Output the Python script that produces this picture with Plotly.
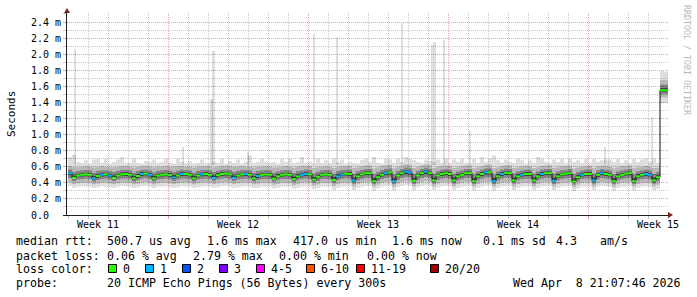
import plotly.graph_objects as go

# ------------------------------------------------------------------ data
# one sample every 0.2 day (30 days, 5 samples per day), values in microseconds
SAMPLE_DAYS = 0.2

median_us = [
    520, 460, 490, 500, 505,   500, 455, 485, 500, 505,   490, 460, 490, 505, 510,
    500, 455, 485, 510, 515,   500, 455, 490, 500, 505,   495, 465, 490, 510, 510,
    500, 455, 490, 505, 510,   500, 460, 495, 510, 515,   505, 460, 490, 505, 510,
    500, 455, 485, 500, 505,   500, 450, 480, 500, 505,   500, 445, 480, 500, 510,
    505, 440, 475, 500, 505,   500, 435, 480, 505, 515,   510, 430, 480, 505, 520,
    520, 420, 470, 500, 520,   530, 420, 490, 520, 540,   530, 425, 490, 520, 540,
    520, 430, 490, 510, 520,   510, 430, 480, 500, 520,   520, 420, 480, 510, 530,
    530, 420, 480, 510, 525,   520, 430, 480, 500, 510,   510, 430, 480, 510, 520,
    520, 425, 480, 505, 515,   520, 415, 470, 500, 510,   510, 430, 500, 520, 510,
    500, 420, 480, 500, 515,   520, 420, 480, 500, 510,   500, 430, 470, 1550, 1550,
]
ping_p90_us = [
    610, 600, 595, 600, 605,   600, 590, 600, 605, 600,   595, 595, 600, 610, 605,
    600, 590, 600, 605, 610,   600, 595, 600, 600, 605,   600, 600, 605, 610, 600,
    600, 590, 600, 605, 605,   605, 595, 600, 610, 610,   605, 600, 600, 605, 600,
    600, 590, 600, 600, 605,   600, 590, 595, 600, 605,   600, 590, 600, 605, 610,
    605, 585, 595, 600, 605,   600, 585, 600, 605, 610,   610, 585, 595, 605, 615,
    615, 580, 595, 610, 620,   625, 580, 600, 615, 630,   625, 585, 600, 615, 630,
    620, 585, 600, 610, 615,   610, 585, 595, 605, 615,   615, 580, 595, 610, 625,
    625, 580, 595, 610, 620,   615, 585, 595, 605, 610,   610, 585, 595, 610, 615,
    615, 585, 595, 605, 610,   615, 580, 590, 600, 610,   610, 585, 605, 615, 610,
    600, 580, 595, 605, 610,   615, 580, 595, 600, 610,   600, 585, 590, 1680, 1680,
]
ping_p10_us = [
    410, 385, 395, 400, 405,   400, 380, 390, 400, 405,   395, 385, 395, 405, 405,
    400, 380, 390, 405, 410,   400, 380, 395, 400, 405,   395, 385, 395, 405, 405,
    400, 380, 395, 400, 405,   400, 385, 395, 405, 410,   400, 385, 395, 400, 405,
    400, 380, 390, 400, 400,   400, 375, 385, 400, 400,   400, 370, 385, 400, 405,
    400, 365, 380, 400, 400,   400, 360, 385, 400, 405,   405, 355, 385, 400, 410,
    410, 350, 375, 400, 410,   415, 350, 390, 410, 420,   415, 355, 390, 410, 420,
    410, 355, 390, 405, 410,   405, 355, 385, 400, 410,   410, 350, 385, 405, 415,
    415, 350, 385, 405, 410,   410, 355, 385, 400, 405,   405, 355, 385, 405, 410,
    410, 355, 385, 400, 405,   410, 345, 375, 400, 405,   405, 355, 395, 410, 405,
    400, 350, 385, 400, 405,   410, 350, 385, 400, 405,   400, 355, 375, 1460, 1460,
]
ping_min_us = [
    360, 340, 350, 355, 350,   350, 335, 345, 355, 350,   345, 340, 350, 360, 355,
    350, 335, 345, 355, 360,   350, 335, 350, 350, 355,   345, 340, 345, 355, 355,
    350, 335, 345, 350, 355,   350, 340, 345, 355, 360,   350, 340, 345, 350, 355,
    350, 335, 340, 350, 350,   350, 330, 340, 350, 350,   350, 325, 340, 350, 355,
    350, 320, 335, 350, 350,   350, 315, 340, 350, 355,   355, 310, 340, 350, 360,
    360, 305, 330, 350, 360,   365, 305, 345, 360, 370,   365, 310, 345, 360, 370,
    360, 310, 345, 355, 360,   355, 310, 340, 350, 360,   360, 305, 340, 355, 365,
    365, 305, 340, 355, 360,   360, 310, 340, 350, 355,   355, 310, 340, 355, 360,
    360, 310, 340, 350, 355,   360, 300, 330, 350, 355,   355, 310, 350, 360, 355,
    350, 305, 340, 350, 355,   360, 305, 340, 350, 355,   350, 310, 330, 1390, 1390,
]
ping_max_us = [
    720, 750, 660, 650, 680,   640, 690, 700, 650, 700,   640, 660, 690, 720, 650,
    650, 700, 650, 640, 670,   660, 690, 650, 660, 700,   650, 640, 700, 660, 650,
    670, 640, 650, 690, 650,   640, 660, 650, 700, 640,   670, 650, 690, 640, 660,
    740, 650, 660, 700, 660,   650, 660, 640, 700, 660,   700, 650, 660, 720, 650,
    660, 640, 700, 650, 680,   650, 700, 660, 690, 640,   660, 650, 640, 680, 700,
    660, 720, 650, 640, 700,   690, 650, 700, 660, 720,   700, 680, 660, 650, 690,
    670, 660, 690, 650, 700,   650, 690, 660, 700, 650,   640, 700, 650, 720, 660,
    700, 740, 680, 650, 690,   660, 650, 700, 680, 640,   680, 650, 720, 700, 660,
    650, 690, 660, 700, 650,   700, 660, 680, 650, 700,   650, 700, 660, 680, 690,
    690, 660, 700, 650, 680,   650, 700, 660, 690, 700,   660, 700, 650, 1790, 1780,
]
# pings lost out of 20 in each sample
loss_count = [
    1, 0, 0, 0, 0,   0, 1, 0, 1, 0,   1, 0, 0, 0, 0,   0, 0, 0, 1, 0,   1, 0, 0, 0, 0,
    0, 1, 0, 1, 0,   0, 0, 0, 1, 0,   0, 1, 0, 0, 0,   0, 1, 0, 0, 1,   0, 0, 1, 0, 0,
    0, 0, 0, 0, 0,   0, 0, 0, 1, 1,   0, 0, 0, 0, 0,   0, 0, 1, 1, 0,   0, 1, 0, 0, 0,
    0, 0, 0, 0, 1,   0, 1, 0, 0, 1,   1, 0, 0, 0, 1,   0, 0, 0, 0, 0,   0, 0, 0, 0, 0,
    0, 0, 0, 0, 1,   0, 1, 0, 1, 0,   0, 0, 0, 1, 0,   0, 0, 0, 1, 0,   0, 1, 0, 0, 0,
    0, 0, 0, 1, 0,   0, 1, 0, 1, 0,   0, 0, 0, 0, 0,   0, 0, 0, 0, 1,   1, 0, 0, 0, 0,
]
# isolated high max-ping columns (day position, microseconds)
spike_day = [0.35, 5.75, 7.17, 7.27, 9.0, 12.3, 13.45, 16.7, 18.2, 18.33, 18.8, 20.1, 26.85, 29.2]
spike_top_us = [2060, 850, 1440, 2040, 780, 2250, 2210, 2390, 2110, 2150, 2180, 1040, 850, 1220]

y_tick_vals = [0, 2, 4, 6, 8, 10, 12, 14, 16, 18, 20, 22, 24]          # units of 100 us
y_tick_text = ["0.0\u00a0\u00a0", "0.2 m", "0.4 m", "0.6 m", "0.8 m", "1.0 m", "1.2 m",
               "1.4 m", "1.6 m", "1.8 m", "2.0 m", "2.2 m", "2.4 m"]
week_grid_day = [5, 12, 19, 26]
week_label_day = [1.5, 8.5, 15.5, 22.5, 29.5]
week_labels = ["Week 11", "Week 12", "Week 13", "Week 14", "Week 15"]

loss_colors = {0: "#26ff00", 1: "#00b8ff", 2: "#0059ff", 3: "#7e00ff",
               5: "#ff00ff", 10: "#ff5500", 19: "#ff0000", 20: "#a10000"}
legend_loss_labels = ["0", "1", "2", "3", "4-5", "6-10", "11-19", "20/20"]
legend_loss_colors = ["#26ff00", "#00b8ff", "#0059ff", "#7e00ff", "#ff00ff", "#ff5500", "#ff0000", "#a10000"]

stats_line1 = ["median rtt:", "500.7 us avg", "1.6 ms max", "417.0 us min", "1.6 ms now", "0.1 ms sd", "4.3", "am/s"]
stats_line2 = ["packet loss:", "0.06 % avg", "2.79 % max", "0.00 % min", "0.00 % now"]
probe_text = ["probe:", "20 ICMP Echo Pings (56 Bytes) every 300s"]
stamp_text = "Wed Apr \u00a08 21:07:46 2026"

# ------------------------------------------------------------------ geometry
W, H = 697, 297
ML, MR, MT, MB = 67, 29, 13, 82
PW, PH = W - ML - MR, H - MT - MB
MONO = "DejaVu Sans Mono"


def px(x):
    return (x - ML) / PW


def py(y):
    return (H - MB - y) / PH


def u(v):  # microseconds -> axis units (100 us)
    return v / 100.0


n = len(median_us)
t = [i * SAMPLE_DAYS for i in range(n)]
t_step = t + [n * SAMPLE_DAYS]


def stepped(vals):
    v = [u(a) for a in vals]
    return v + [v[-1]]


fig = go.Figure()

# isolated max-ping columns
fig.add_trace(go.Bar(x=spike_day, y=[u(v) - 6.2 for v in spike_top_us], base=6.2, width=0.13,
                     marker=dict(color="rgba(0,0,0,0.13)", line=dict(width=0)),
                     hoverinfo="skip", showlegend=False))

# smoke: strips between successive edges
med = [u(a) for a in median_us]
p10 = [u(a) for a in ping_p10_us]
p90 = [u(a) for a in ping_p90_us]
e2 = [m - 0.55 * (m - q) for m, q in zip(med, p10)]
e3 = [m - 0.25 * (m - q) for m, q in zip(med, p10)]
e5 = [m + 0.25 * (q - m) for m, q in zip(med, p90)]
e6 = [m + 0.55 * (q - m) for m, q in zip(med, p90)]
edges = [
    ([u(a) for a in ping_min_us], None),
    (p10, 0.13),
    (e2, 0.28),
    (e3, 0.48),
    (med, 0.72),
    (e5, 0.72),
    (e6, 0.48),
    (p90, 0.28),
    ([u(a) for a in ping_max_us], 0.13),
]
for vals, alpha in edges:
    yy = vals + [vals[-1]]
    fig.add_trace(go.Scatter(
        x=t_step, y=yy, mode="lines", line=dict(width=0, shape="hv"),
        fill=None if alpha is None else "tonexty",
        fillcolor=None if alpha is None else f"rgba(0,0,0,{alpha})",
        hoverinfo="skip", showlegend=False))

# median connector line
fig.add_trace(go.Scatter(x=t_step, y=stepped(median_us), mode="lines",
                         line=dict(color="#111111", width=1, shape="hv"),
                         hoverinfo="skip", showlegend=False))


def loss_key(c):
    for k in sorted(loss_colors):
        if c <= k:
            return k
    return 20


segs = {}
for i in range(n):
    k = loss_key(loss_count[i])
    xs, ys = segs.setdefault(k, ([], []))
    xs += [t[i], t[i] + SAMPLE_DAYS, None]
    ys += [med[i], med[i], None]
for k, (xs, ys) in segs.items():
    fig.add_trace(go.Scatter(x=xs, y=ys, mode="lines",
                             line=dict(color=loss_colors[k], width=2),
                             hoverinfo="skip", showlegend=False))

GRID_MAJOR = "rgba(245,128,128,0.5)"
GRID_MINOR = "rgba(140,140,140,0.5)"

fig.update_xaxes(range=[-0.05, 30.0], tickmode="array", tickvals=week_grid_day,
                 showticklabels=False, ticks="outside", ticklen=3, tickcolor=GRID_MAJOR,
                 showgrid=True, gridcolor=GRID_MAJOR, gridwidth=1, griddash="1px,1px",
                 minor=dict(tick0=0, dtick=1, showgrid=True, gridcolor=GRID_MINOR, griddash="1px,1px",
                            ticks="outside", ticklen=3, tickcolor=GRID_MINOR),
                 showline=True, linecolor="#1f1f1f", linewidth=1, zeroline=False, fixedrange=True)
fig.update_yaxes(range=[0, 25.12], tickmode="array", tickvals=y_tick_vals, ticktext=y_tick_text,
                 ticks="outside", ticklen=3, tickcolor=GRID_MAJOR,
                 tickfont=dict(family=MONO, size=10, color="#000000"),
                 showgrid=True, gridcolor=GRID_MAJOR, gridwidth=1, griddash="1px,1px",
                 minor=dict(tick0=0, dtick=1, showgrid=True, gridcolor=GRID_MINOR, griddash="1px,1px",
                            ticks="outside", ticklen=3, tickcolor=GRID_MINOR),
                 showline=True, linecolor="#1f1f1f", linewidth=1, zeroline=False, fixedrange=True)

ann = []
shapes = []
for d, lab in zip(week_label_day, week_labels):
    ann.append(dict(x=d, xref="x", y=py(224.5), yref="paper", text=lab, showarrow=False,
                    xanchor="center", yanchor="middle", font=dict(family=MONO, size=10, color="#000")))

FS = 11.6


def text_at(x, y, s, anchor="left", size=FS, color="#000000", angle=0, yanchor="middle"):
    ann.append(dict(x=px(x), xref="paper", y=py(y), yref="paper", text=s, showarrow=False,
                    xanchor=anchor, yanchor=yanchor, textangle=angle, borderpad=0, borderwidth=0,
                    font=dict(family=MONO, size=size, color=color)))


line1_x = [15.5, 106.5, 206.5, 292.5, 391.5, 482.5, 555.5, 599.5]
for x, s in zip(line1_x, stats_line1):
    text_at(x, 241.5, s)
line2_x = [15.5, 106.5, 192.5, 278.5, 366.5]
for x, s in zip(line2_x, stats_line2):
    text_at(x, 255.5, s)
text_at(15.5, 269.0, "loss color:")
box_x = [108, 145, 182, 219, 256, 306, 356, 430]
for bx, lab, col in zip(box_x, legend_loss_labels, legend_loss_colors):
    shapes.append(dict(type="rect", xref="paper", yref="paper",
                       x0=px(bx + 0.5), x1=px(bx + 8.5), y0=py(272.5), y1=py(264.5),
                       fillcolor=col, line=dict(color="#000000", width=1)))
    text_at(bx + 15, 269.0, lab)
text_at(15.5, 283.0, probe_text[0])
text_at(106.5, 283.0, probe_text[1])
text_at(681, 283.0, stamp_text, anchor="right")

# axis title and watermark
text_at(11, 114, "Seconds", anchor="center", size=11, angle=-90)
text_at(687, 60, "RRDTOOL / TOBI OETIKER", anchor="center", size=8.3, color="#b8b8b8", angle=90)

# axis arrows
ARROW = "#7f1f1f"
shapes.append(dict(type="path", xref="paper", yref="paper",
                   path=f"M {px(64)} {py(13)} L {px(70)} {py(13)} L {px(67)} {py(8)} Z",
                   fillcolor=ARROW, line=dict(width=0)))
shapes.append(dict(type="path", xref="paper", yref="paper",
                   path=f"M {px(668)} {py(212)} L {px(668)} {py(218)} L {px(673)} {py(215)} Z",
                   fillcolor=ARROW, line=dict(width=0)))
shapes.append(dict(type="line", xref="paper", yref="paper", x0=px(63), x1=px(67), y0=py(215.5), y1=py(215.5),
                   line=dict(color="#1f1f1f", width=1)))

fig.update_layout(width=W, height=H, margin=dict(l=ML, r=MR, t=MT, b=MB, pad=0),
                  paper_bgcolor="#ffffff", plot_bgcolor="#ffffff", showlegend=False,
                  bargap=0, annotations=ann, shapes=shapes,
                  font=dict(family=MONO, size=10, color="#000000"))

fig.write_html("out.html")
